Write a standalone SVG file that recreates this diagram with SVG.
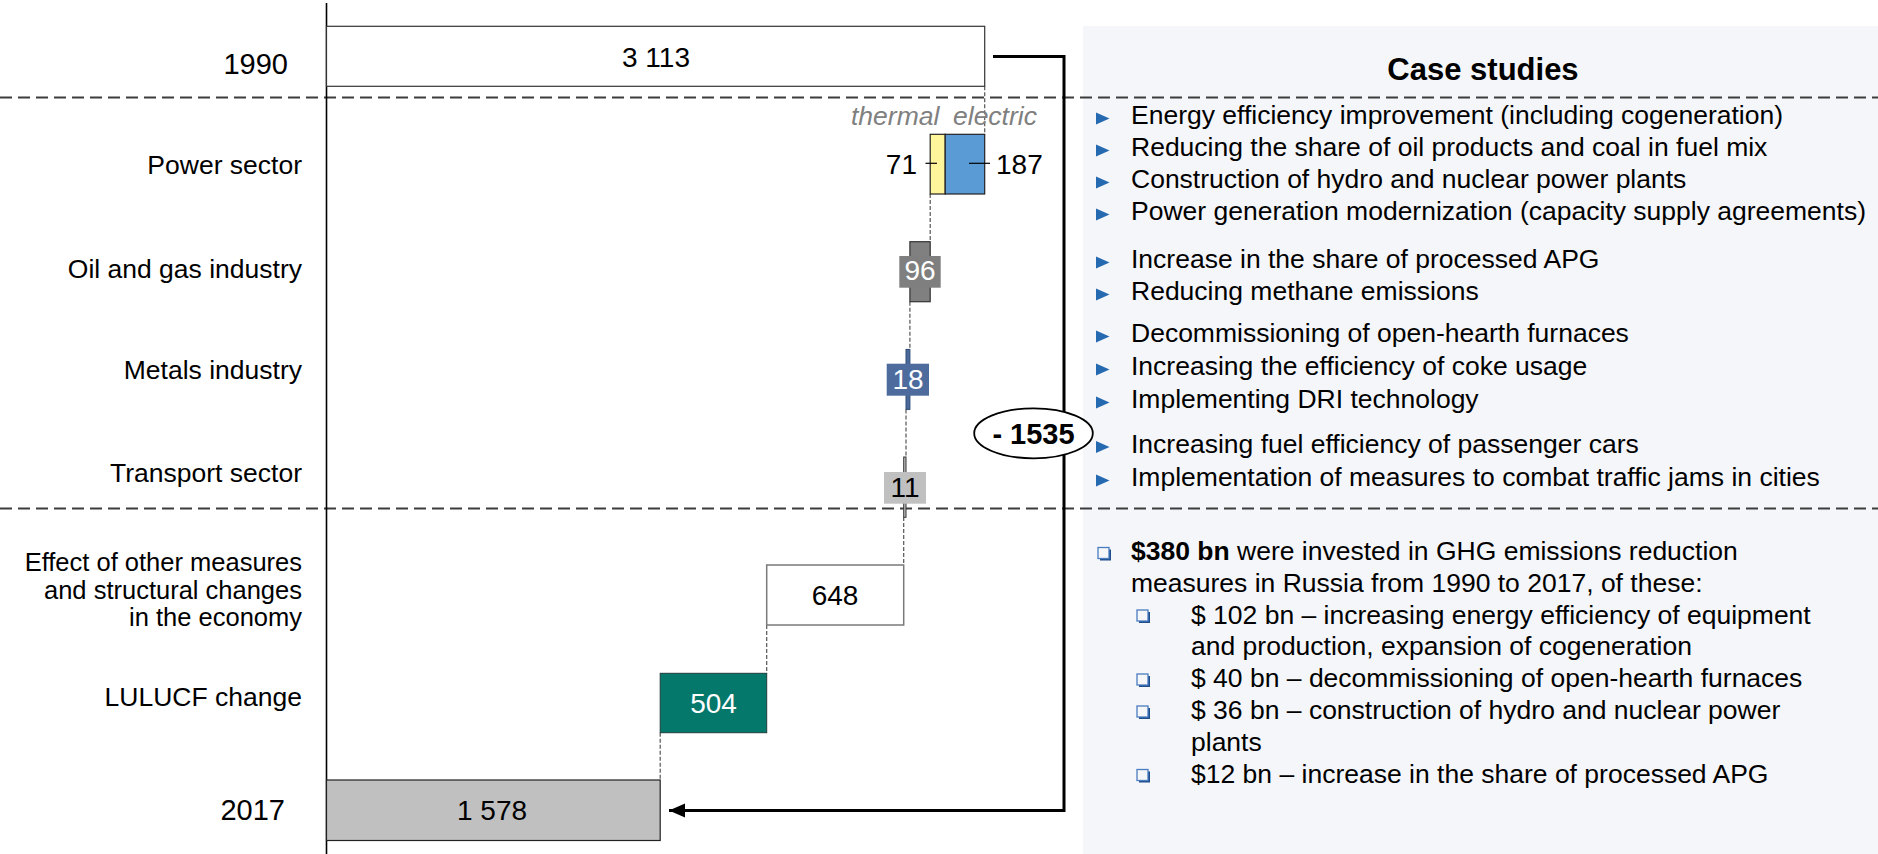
<svg xmlns="http://www.w3.org/2000/svg" width="1878" height="854" viewBox="0 0 1878 854">
<defs>
<style>
text{font-family:"Liberation Sans",Arial,sans-serif;fill:#000}
.lbl{font-size:26.5px;text-anchor:end}
.lbs{font-size:25.5px;text-anchor:end}
.yr{font-size:29px;text-anchor:end}
.num{font-size:28px;text-anchor:middle}
.rt{font-size:26.5px}
.conn{stroke:#555;stroke-width:1.2;stroke-dasharray:4,2;fill:none}
.sep{stroke:#3c3c3c;stroke-width:2;stroke-dasharray:12,6;fill:none}
.tri{fill:#2569b1}
</style>
<g id="cb">
<rect x="2" y="2" width="11" height="11" fill="#1f4e8c"/>
<rect x="0" y="0" width="11" height="11" fill="#f5f6f9" stroke="#4a7cc0" stroke-width="1.3"/>
</g>
<polygon id="tb" points="0,0 0,12 13.5,6" class="tri"/>
<marker id="ah" markerUnits="userSpaceOnUse" markerWidth="18" markerHeight="16" refX="16" refY="8" orient="auto">
<polygon points="0,1 16,8 0,15" fill="#000"/>
</marker>
</defs>
<rect width="1878" height="854" fill="#fff"/>
<rect id="panel" x="1083" y="26" width="795" height="828" fill="#f5f6f9"/>

<g id="separators">
<line class="sep" x1="0" y1="97.5" x2="1878" y2="97.5"/>
<line class="sep" x1="0" y1="508.5" x2="1878" y2="508.5"/>
</g>

<line id="axis" x1="326.5" y1="3" x2="326.5" y2="854" stroke="#000" stroke-width="1.6"/>

<g id="labels">
<text class="yr" x="288" y="73.5">1990</text>
<text class="lbl" x="302" y="174">Power sector</text>
<text class="lbl" x="302" y="278">Oil and gas industry</text>
<text class="lbl" x="302" y="378.5">Metals industry</text>
<text class="lbl" x="302" y="482">Transport sector</text>
<text class="lbs" x="302" y="571">Effect of other measures</text>
<text class="lbs" x="302" y="598.5">and structural changes</text>
<text class="lbs" x="302" y="626">in the economy</text>
<text class="lbl" x="302" y="706">LULUCF change</text>
<text class="yr" x="285" y="820">2017</text>
</g>

<g id="connectors">
<line class="conn" x1="984.7" y1="86.3" x2="984.7" y2="134.3"/>
<line class="conn" x1="930.2" y1="194" x2="930.2" y2="241.7"/>
<line class="conn" x1="909.9" y1="301.7" x2="909.9" y2="349.4"/>
<line class="conn" x1="906" y1="409.4" x2="906" y2="457"/>
<line class="conn" x1="903.7" y1="517" x2="903.7" y2="565"/>
<line class="conn" x1="766.7" y1="625" x2="766.7" y2="673.3"/>
<line class="conn" x1="660.2" y1="732.7" x2="660.2" y2="780"/>
<polyline points="993,56.5 1064,56.5 1064,810.5 669,810.5" fill="none" stroke="#000" stroke-width="3" marker-end="url(#ah)"/>
</g>

<g id="n1990">
<rect x="326.5" y="26.3" width="658.2" height="60" fill="#fff" stroke="#333" stroke-width="1.2"/>
<text class="num" x="656" y="66.5">3 113</text>
</g>

<g id="power">
<text x="851" y="125" font-size="26.5" font-style="italic" style="fill:#808080">thermal</text>
<text x="953" y="125" font-size="26.5" font-style="italic" style="fill:#808080">electric</text>
<rect x="930.2" y="134.3" width="15" height="59.7" fill="#fff59b" stroke="#222" stroke-width="1.2"/>
<rect x="945.2" y="134.3" width="39.5" height="59.7" fill="#5b9bd5" stroke="#222" stroke-width="1.2"/>
<line x1="925.5" y1="163.3" x2="937" y2="163.3" stroke="#000" stroke-width="1.2"/>
<line x1="969" y1="163.3" x2="990" y2="163.3" stroke="#000" stroke-width="1.2"/>
<text x="917" y="173.5" font-size="28" text-anchor="end">71</text>
<text x="996" y="173.5" font-size="28">187</text>
</g>

<g id="oilgas">
<rect x="909.9" y="241.7" width="20.3" height="60" fill="#808080" stroke="#333" stroke-width="1.2"/>
<rect x="899.3" y="256" width="41.4" height="31.7" fill="#7f7f7f"/>
<text class="num" x="920" y="280" style="fill:#fff">96</text>
</g>

<g id="metals">
<rect x="906" y="349.4" width="3.9" height="60" fill="#4b6a9b" stroke="#2d4a75" stroke-width="1"/>
<rect x="886.7" y="363.7" width="42.3" height="32" fill="#4d6b9d"/>
<text class="num" x="908" y="388.5" style="fill:#fff">18</text>
</g>

<g id="transport">
<rect x="903.7" y="457" width="2.3" height="60.3" fill="#c0c0c0" stroke="#333" stroke-width="1"/>
<rect x="884" y="472" width="42" height="31.7" fill="#c0c0c0"/>
<text class="num" x="905" y="496.7">11</text>
</g>

<g id="other">
<rect x="766.7" y="565" width="137" height="60" fill="#fff" stroke="#7a7a7a" stroke-width="1.5"/>
<text class="num" x="835" y="605">648</text>
</g>

<g id="lulucf">
<rect x="660.2" y="673.3" width="106.5" height="59.4" fill="#05786c" stroke="#1d3d3a" stroke-width="1"/>
<text class="num" x="713.5" y="712.7" style="fill:#fff">504</text>
</g>

<g id="n2017">
<rect x="326.5" y="780" width="333.7" height="60.5" fill="#c0c0c0" stroke="#222" stroke-width="1.2"/>
<text class="num" x="492" y="820">1 578</text>
</g>

<g id="total">
<ellipse cx="1033.5" cy="433.3" rx="59.3" ry="25" fill="#fff" stroke="#000" stroke-width="1.8"/>
<text x="1033.5" y="443.5" font-size="29" font-weight="bold" text-anchor="middle">- 1535</text>
</g>

<g id="casestudies">
<text x="1483" y="79.5" font-size="31" font-weight="bold" text-anchor="middle">Case studies</text>
<use href="#tb" x="1096" y="112.5"/>
<text class="rt" x="1131" y="124">Energy efficiency improvement (including cogeneration)</text>
<use href="#tb" x="1096" y="144.5"/>
<text class="rt" x="1131" y="156">Reducing the share of oil products and coal in fuel mix</text>
<use href="#tb" x="1096" y="176.5"/>
<text class="rt" x="1131" y="188">Construction of hydro and nuclear power plants</text>
<use href="#tb" x="1096" y="208.5"/>
<text class="rt" x="1131" y="220">Power generation modernization (capacity supply agreements)</text>
<use href="#tb" x="1096" y="256.5"/>
<text class="rt" x="1131" y="268">Increase in the share of processed APG</text>
<use href="#tb" x="1096" y="288.5"/>
<text class="rt" x="1131" y="300">Reducing methane emissions</text>
<use href="#tb" x="1096" y="330.5"/>
<text class="rt" x="1131" y="342">Decommissioning of open-hearth furnaces</text>
<use href="#tb" x="1096" y="363.5"/>
<text class="rt" x="1131" y="375">Increasing the efficiency of coke usage</text>
<use href="#tb" x="1096" y="396.5"/>
<text class="rt" x="1131" y="408">Implementing DRI technology</text>
<use href="#tb" x="1096" y="441"/>
<text class="rt" x="1131" y="452.5">Increasing fuel efficiency of passenger cars</text>
<use href="#tb" x="1096" y="474.5"/>
<text class="rt" x="1131" y="486">Implementation of measures to combat traffic jams in cities</text>
</g>

<g id="investments">
<use href="#cb" x="1098" y="547.5"/>
<text class="rt" x="1131" y="560"><tspan font-weight="bold">$380 bn</tspan> were invested in GHG emissions reduction</text>
<text class="rt" x="1131" y="591.5">measures in Russia from 1990 to 2017, of these:</text>
<use href="#cb" x="1137" y="610"/>
<text class="rt" x="1191" y="623.5">$ 102 bn – increasing energy efficiency of equipment</text>
<text class="rt" x="1191" y="655">and production, expansion of cogeneration</text>
<use href="#cb" x="1137" y="674"/>
<text class="rt" x="1191" y="687">$ 40 bn – decommissioning of open-hearth furnaces</text>
<use href="#cb" x="1137" y="706"/>
<text class="rt" x="1191" y="719">$ 36 bn – construction of hydro and nuclear power</text>
<text class="rt" x="1191" y="751">plants</text>
<use href="#cb" x="1137" y="769.5"/>
<text class="rt" x="1191" y="782.5">$12 bn – increase in the share of processed APG</text>
</g>
</svg>
